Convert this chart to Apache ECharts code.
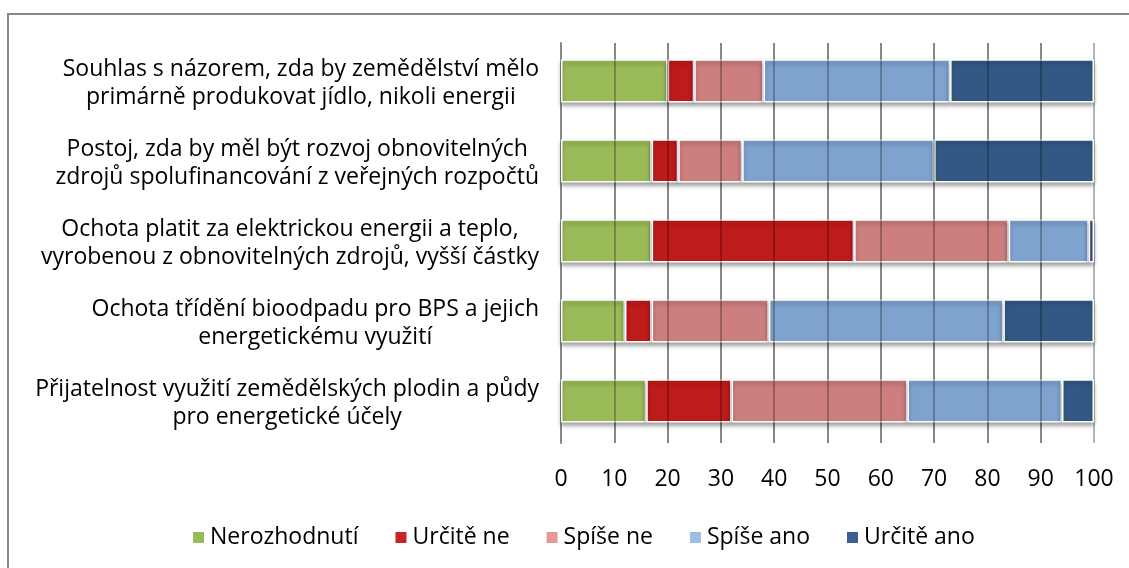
<!DOCTYPE html>
<html>
<head>
<meta charset="utf-8">
<script src="https://cdn.jsdelivr.net/npm/echarts@6/dist/echarts.min.js"></script>
<style>
html,body{margin:0;padding:0;background:#fff;}
#chart{width:1129px;height:568px;}
</style>
</head>
<body>
<div id="chart"></div>
<script>
const categories = [
  "Souhlas s názorem, zda by zemědělství mělo\nprimárně produkovat jídlo, nikoli energii",
  "Postoj, zda by měl být rozvoj obnovitelných\nzdrojů spolufinancování z veřejných rozpočtů",
  "Ochota platit za elektrickou energii a teplo,\nvyrobenou z obnovitelných zdrojů, vyšší částky",
  "Ochota třídění bioodpadu pro BPS a jejich\nenergetickému využití",
  "Přijatelnost využití zemědělských plodin a půdy\npro energetické účely"
];
const seriesNames = ["Nerozhodnutí", "Určitě ne", "Spíše ne", "Spíše ano", "Určitě ano"];
const nerozhodnuti = [20, 17, 17, 12, 16];
const urciteNe     = [5, 5, 38, 5, 16];
const spiseNe      = [13, 12, 29, 22, 33];
const spiseAno     = [35, 36, 15, 44, 29];
const urciteAno    = [27, 30, 1, 17, 6];
const xTicks = [0, 10, 20, 30, 40, 50, 60, 70, 80, 90, 100];

const values = [nerozhodnuti, urciteNe, spiseNe, spiseAno, urciteAno];
const barColors = ["#9BBB59", "#BE1B1B", "#CD7F7F", "#7FA3CF", "#325985"];
const legendColors = ["#9BBB59", "#C82626", "#E69898", "#9BBEE6", "#3C5F91"];

const chart = echarts.init(document.getElementById('chart'), null, {renderer: 'canvas'});
const FONT = '"Open Sans"';
const FS = 23;

const series = seriesNames.map((name, i) => ({
  name: name,
  type: 'bar',
  stack: 'total',
  barWidth: '54%',
  data: values[i],
  itemStyle: {
    color: barColors[i],
    borderColor: '#ffffff',
    borderWidth: 1.5,
    shadowColor: 'rgba(0,0,0,0.35)',
    shadowBlur: 4,
    shadowOffsetY: 3
  },
  emphasis: {disabled: true},
  z: 2
}));

// grid lines drawn on top of the bars (as in the reference)
series.push({
  name: '_grid',
  type: 'bar',
  data: [],
  silent: true,
  z: 5,
  markLine: {
    silent: true,
    symbol: ['none', 'none'],
    label: {show: false},
    lineStyle: {color: 'rgba(0,0,0,0.25)', width: 2, type: 'solid'},
    data: xTicks.filter(v => v > 0 && v < 100).map(v => ({xAxis: v}))
  }
});

chart.setOption({
  animation: false,
  backgroundColor: '#ffffff',
  textStyle: {fontFamily: FONT},
  graphic: [{
    type: 'rect',
    shape: {x: 8, y: 14, width: 1300, height: 700},
    style: {fill: 'none', stroke: '#878787', lineWidth: 2},
    silent: true
  }],
  grid: {left: 561, right: 35, top: 43, bottom: 125, containLabel: false},
  legend: {
    data: seriesNames.map((n, i) => ({name: n, itemStyle: {color: legendColors[i]}})),
    top: 526,
    left: 191,
    padding: 0,
    icon: 'rect',
    itemWidth: 13,
    itemHeight: 13,
    itemGap: 35,
    textStyle: {fontFamily: FONT, fontSize: FS, color: '#000'},
    selectedMode: false
  },
  xAxis: {
    type: 'value',
    min: 0,
    max: 100,
    interval: 10,
    axisLine: {show: false},
    axisTick: {show: false},
    splitLine: {show: true, lineStyle: {color: '#b5b5b5', width: 2}},
    axisLabel: {fontFamily: FONT, fontSize: FS, color: '#000', margin: 25}
  },
  yAxis: {
    type: 'category',
    inverse: true,
    data: categories,
    axisLine: {show: true, lineStyle: {color: '#878787', width: 2}},
    axisTick: {show: false},
    axisLabel: {
      align: 'right',
      margin: 22,
      formatter: v => v.split('\n').map(l => '{c|' + l + '}').join('\n'),
      rich: {
        c: {align: 'center', fontFamily: FONT, fontSize: FS, color: '#000', lineHeight: 28}
      }
    }
  },
  series: series
});
</script>
</body>
</html>
